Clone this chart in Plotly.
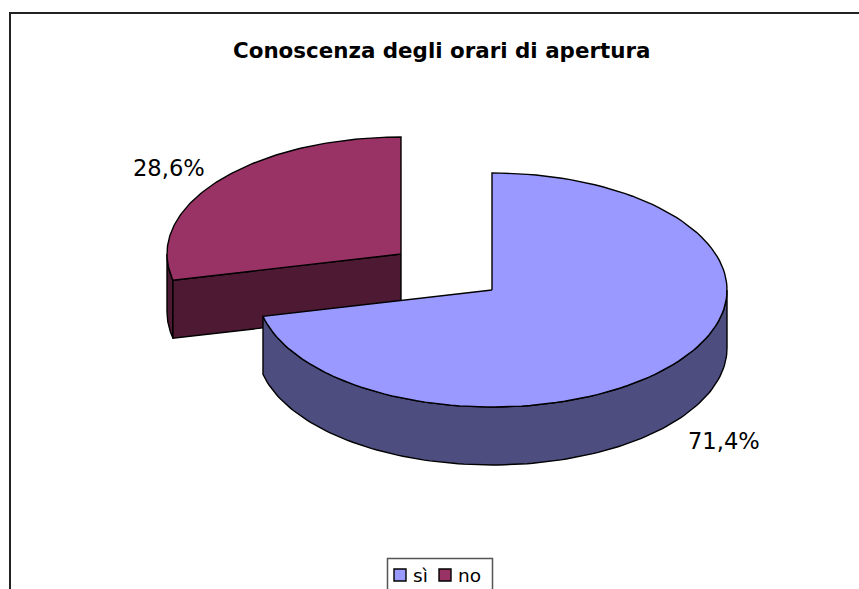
import numpy as np
import plotly.graph_objects as go

categories = ["sì", "no"]
values = [71.4, 28.6]
value_labels = ["71,4%", "28,6%"]
title_text = "Conoscenza degli orari di apertura"

W, H = 859, 589
FIG_W, FIG_H = 880, 620  # the window crops the frame's right and bottom edges
RX = 235, 234
RY, DEPTH = 117, 58
TOP = "#9999FF", "#993366"
SIDE = "#4D4D80", "#4D1933"
APEX = (492, 290), (401, 254)
FRAME = dict(x0=10, y0=13, x1=872, y1=612)
LEGEND_BOX = dict(x0=387.5, y0=558.5, x1=492.5, y1=612)
SWATCH_X = 394, 439
SWATCH_Y = 569, 581
LABEL_X = 413, 458
LABEL_Y = 575


def rim(cx, cy, rx, a0, a1, n=120):
    t = np.radians(np.linspace(a0, a1, n))
    return cx + rx * np.sin(t), cy - RY * np.cos(t)


def poly(x, y, color):
    return go.Scatter(x=list(x) + [x[0]], y=list(y) + [y[0]], mode="lines", fill="toself",
                      fillcolor=color, line=dict(color="black", width=1.4),
                      showlegend=False, hoverinfo="skip")


fig = go.Figure()
total = sum(values)
end_si = values[0] / total * 360

# "no" slice (drawn first: it sits behind)
cx, cy = APEX[1]
x0, y0 = rim(cx, cy, RX[1], end_si, 360)
sx, sy = rim(cx, cy, RX[1], end_si, 270)
fig.add_trace(poly(np.r_[sx, sx[::-1]], np.r_[sy, sy[::-1] + DEPTH], SIDE[1]))
fig.add_trace(poly([cx, x0[0], x0[0], cx], [cy, y0[0], y0[0] + DEPTH, cy + DEPTH], SIDE[1]))
fig.add_trace(poly(np.r_[cx, x0], np.r_[cy, y0], TOP[1]))

# "sì" slice
cx, cy = APEX[0]
x1, y1 = rim(cx, cy, RX[0], 0, end_si)
sx, sy = rim(cx, cy, RX[0], 90, end_si)
fig.add_trace(poly(np.r_[sx, sx[::-1]], np.r_[sy, sy[::-1] + DEPTH], SIDE[0]))
fig.add_trace(poly(np.r_[cx, x1], np.r_[cy, y1], TOP[0]))

fig.add_shape(type="rect", layer="below", line=dict(color="#222222", width=2),
              fillcolor="white", **FRAME)

# legend
fig.add_shape(type="rect", line=dict(color="#555555", width=1.5), fillcolor="white", **LEGEND_BOX)
for name, color, sw_x, lab_x in zip(categories, TOP, SWATCH_X, LABEL_X):
    fig.add_shape(type="rect", x0=sw_x, x1=sw_x + 12, y0=SWATCH_Y[0], y1=SWATCH_Y[1],
                  fillcolor=color, line=dict(color="black", width=1.4))
    fig.add_annotation(x=lab_x, y=LABEL_Y, text=name, showarrow=False, xanchor="left",
                       xshift=-2, font=dict(family="DejaVu Sans", size=18.5, color="black"))

fig.add_annotation(x=441.5, y=50, text=f"<b>{title_text}</b>", showarrow=False,
                   font=dict(family="DejaVu Sans", size=21.4, color="black"))
fig.add_annotation(x=724, y=441, text=value_labels[0], showarrow=False,
                   font=dict(family="DejaVu Sans", size=22.6, color="black"))
fig.add_annotation(x=169, y=168, text=value_labels[1], showarrow=False,
                   font=dict(family="DejaVu Sans", size=22.6, color="black"))

fig.update_layout(
    width=FIG_W, height=FIG_H, margin=dict(l=0, r=0, t=0, b=0),
    paper_bgcolor="white", plot_bgcolor="white", showlegend=False,
    xaxis=dict(range=[0, FIG_W], visible=False, fixedrange=True),
    yaxis=dict(range=[FIG_H, 0], visible=False, fixedrange=True),
)
fig.write_html("out.html", config={"displayModeBar": False},
               post_script="document.body.style.margin='0';document.body.style.overflow='hidden';"
                           "document.documentElement.style.overflow='hidden';")
